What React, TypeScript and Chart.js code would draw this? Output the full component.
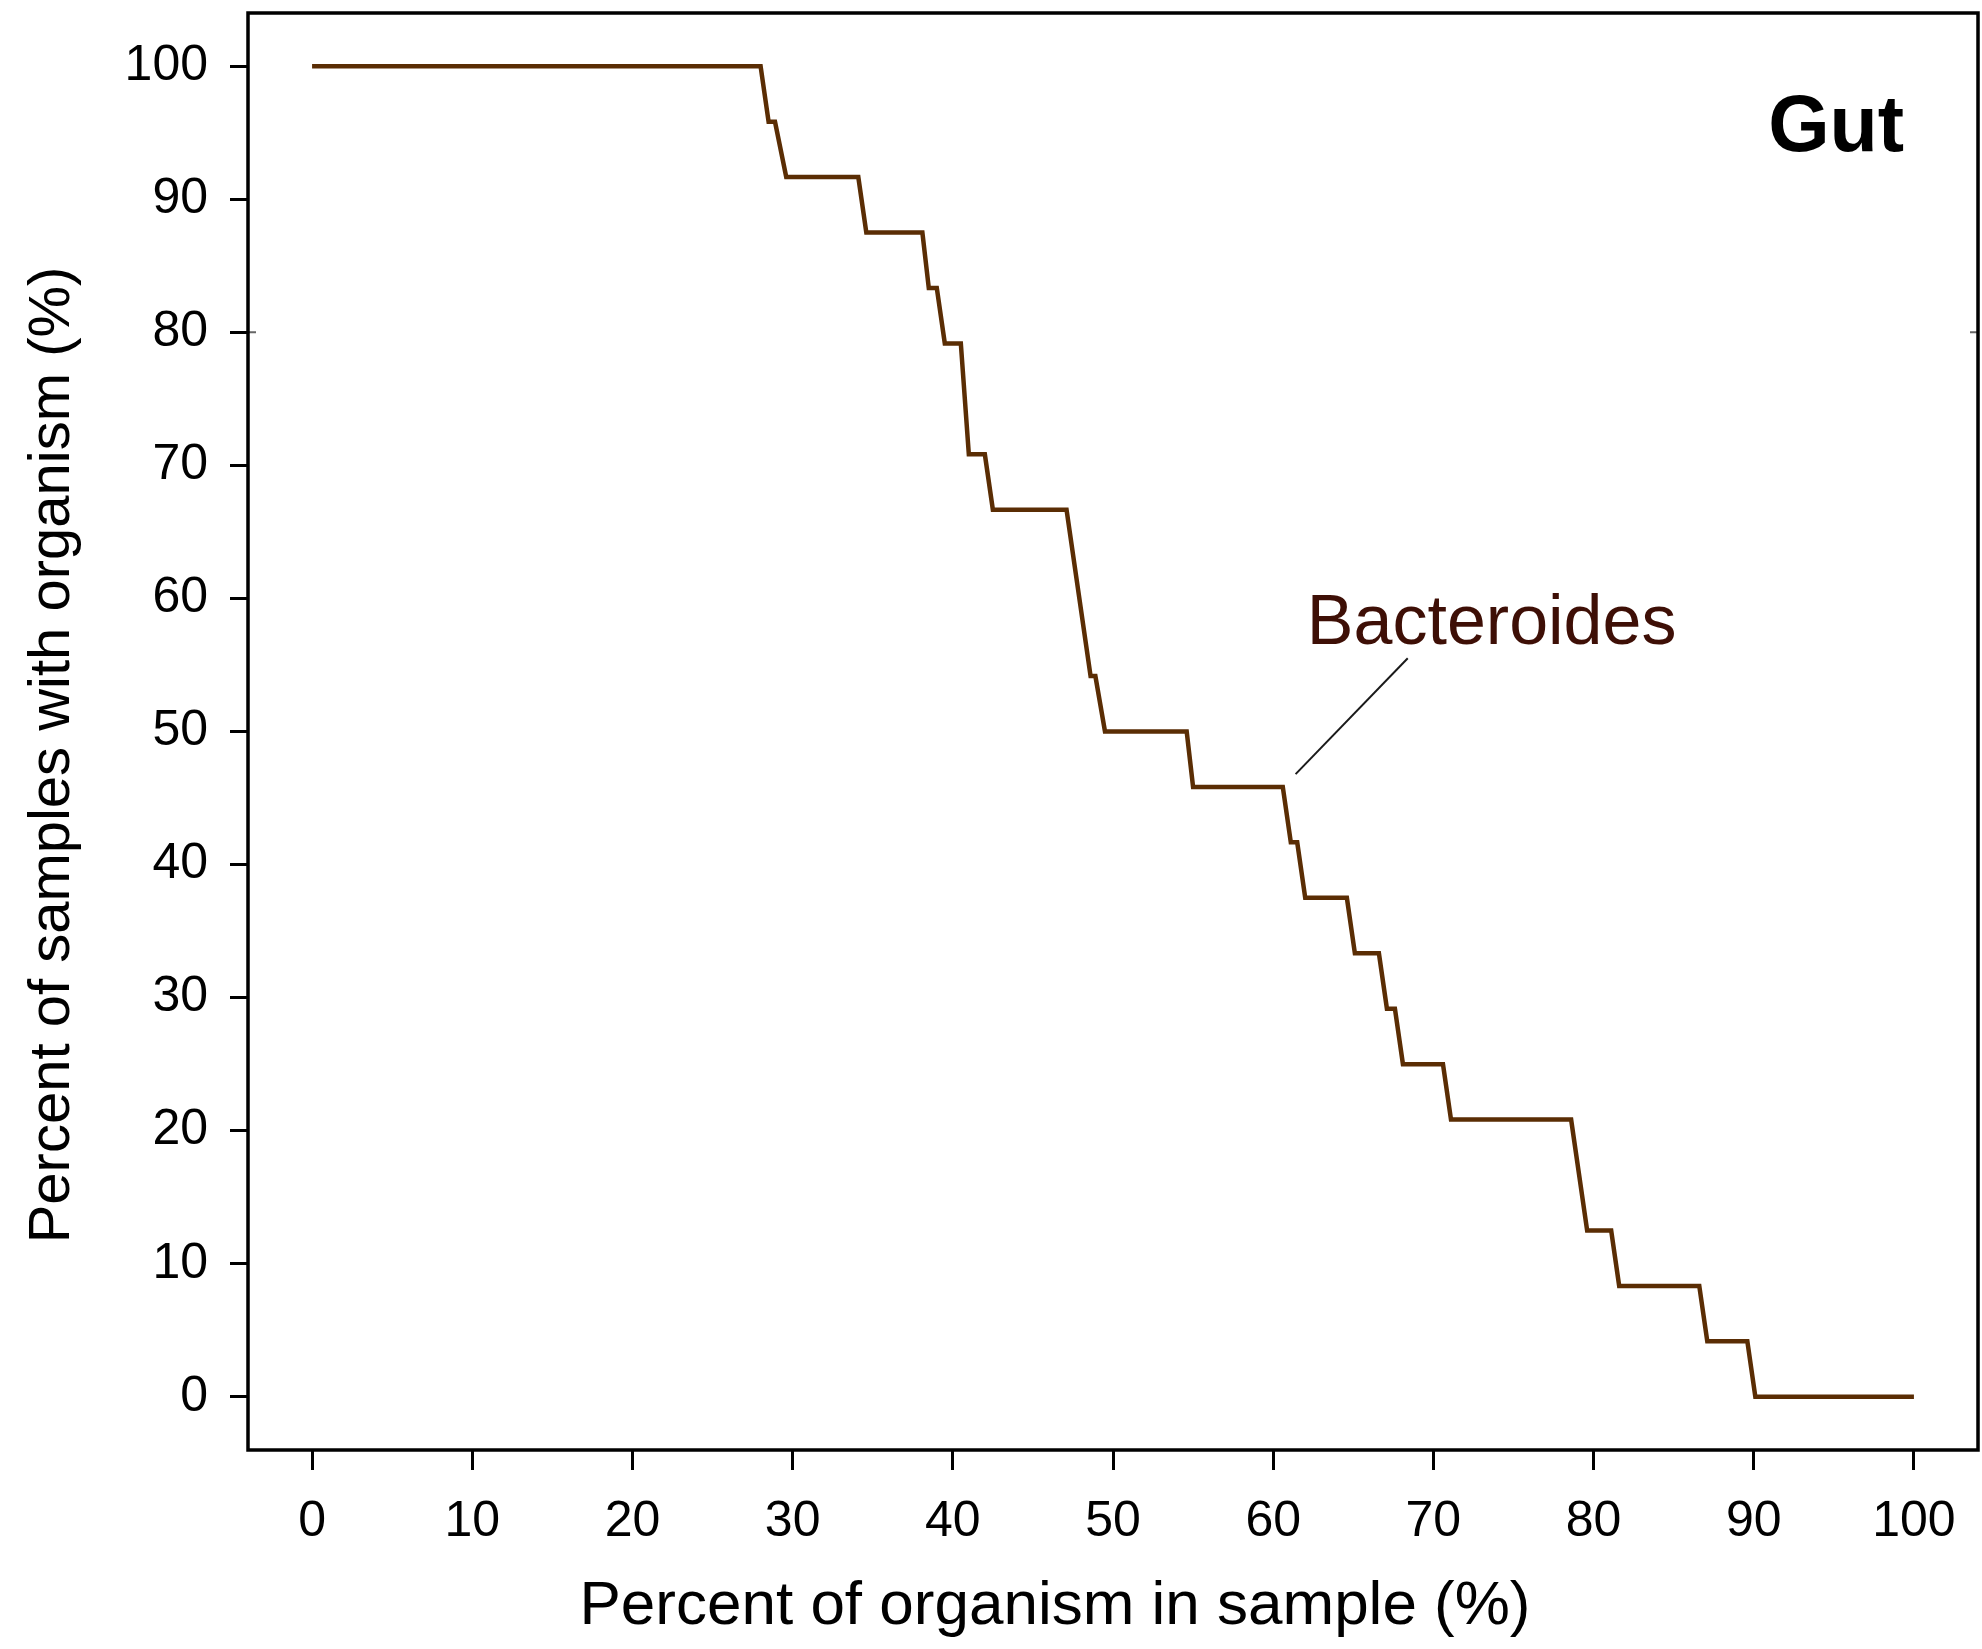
import React, { useEffect, useRef } from 'react';
import { Chart, registerables } from 'chart.js';

Chart.register(...registerables);

// ---- data ----
const stepX = [
  0, 28.0, 28.5, 28.9, 29.6, 34.1, 34.6, 38.1, 38.5, 39.0, 39.5, 40.5, 41.0,
  42.0, 42.5, 47.1, 48.6, 48.9, 49.5, 54.6, 55.0, 60.6, 61.1, 61.5, 62.0,
  64.6, 65.1, 66.6, 67.1, 67.6, 68.1, 70.6, 71.1, 78.6, 79.6, 81.1, 81.6,
  86.6, 87.1, 89.6, 90.1, 100,
];
const stepY = [
  100, 100, 95.83, 95.83, 91.67, 91.67, 87.5, 87.5, 83.33, 83.33, 79.17,
  79.17, 70.83, 70.83, 66.67, 66.67, 54.17, 54.17, 50, 50, 45.83, 45.83,
  41.67, 41.67, 37.5, 37.5, 33.33, 33.33, 29.17, 29.17, 25, 25, 20.83, 20.83,
  12.5, 12.5, 8.33, 8.33, 4.17, 4.17, 0, 0,
];
const xTickValues = [0, 10, 20, 30, 40, 50, 60, 70, 80, 90, 100];
const yTickValues = [0, 10, 20, 30, 40, 50, 60, 70, 80, 90, 100];

const seriesName = 'Bacteroides';
const panelName = 'Gut';
const xTitleText = 'Percent of organism in sample (%)';
const yTitleText = 'Percent of samples with organism (%)';

// annotation anchors in data coordinates
const leaderX = [61.4, 68.4];
const leaderY = [46.8, 55.5];
const seriesLabelAt = [62.1, 56.6];
const panelLabelAt = [90.9, 93.6];
const strayTickValue = 80;

const FONT = '"Liberation Sans", Arial, Helvetica, sans-serif';
const LINE_COLOR = '#5a2d04';
const LABEL_COLOR = '#3e0f06';

const overlayPlugin = {
  id: 'overlay',
  afterDraw(chart: any) {
    const { ctx, chartArea, scales } = chart;
    const xs = scales.x;
    const ys = scales.y;
    ctx.save();
    // axis titles
    ctx.fillStyle = '#000';
    ctx.textAlign = 'center';
    ctx.textBaseline = 'middle';
    ctx.font = `62px ${FONT}`;
    ctx.fillText(xTitleText, 1055, 1607);
    ctx.save();
    ctx.translate(53, 755);
    ctx.rotate(-Math.PI / 2);
    ctx.font = `58px ${FONT}`;
    ctx.fillText(yTitleText, 0, 0);
    ctx.restore();
    // leader line
    ctx.strokeStyle = '#1a1a1a';
    ctx.lineWidth = 2;
    ctx.beginPath();
    ctx.moveTo(xs.getPixelForValue(leaderX[0]), ys.getPixelForValue(leaderY[0]));
    ctx.lineTo(xs.getPixelForValue(leaderX[1]), ys.getPixelForValue(leaderY[1]));
    ctx.stroke();
    // series label
    ctx.fillStyle = LABEL_COLOR;
    ctx.font = `70px ${FONT}`;
    ctx.textAlign = 'left';
    ctx.textBaseline = 'alphabetic';
    ctx.fillText(seriesName, xs.getPixelForValue(seriesLabelAt[0]), ys.getPixelForValue(seriesLabelAt[1]));
    // panel label
    ctx.fillStyle = '#000';
    ctx.font = `bold 79px ${FONT}`;
    ctx.fillText(panelName, xs.getPixelForValue(panelLabelAt[0]), ys.getPixelForValue(panelLabelAt[1]));
    // small stray ticks at 80
    const yy = ys.getPixelForValue(strayTickValue);
    ctx.strokeStyle = '#666';
    ctx.lineWidth = 2;
    ctx.beginPath();
    ctx.moveTo(chartArea.left, yy);
    ctx.lineTo(chartArea.left + 8, yy);
    ctx.moveTo(chartArea.right - 8, yy);
    ctx.lineTo(chartArea.right, yy);
    ctx.stroke();
    // plot box
    ctx.strokeStyle = '#000';
    ctx.lineWidth = 3.5;
    ctx.strokeRect(chartArea.left, chartArea.top, chartArea.right - chartArea.left, chartArea.bottom - chartArea.top);
    ctx.restore();
  },
};

export default function App() {
  const ref = useRef<HTMLCanvasElement | null>(null);

  useEffect(() => {
    if (!ref.current) return;
    const chart = new Chart(ref.current, {
      type: 'line',
      data: {
        datasets: [
          {
            label: seriesName,
            data: stepX.map((x, i) => ({ x, y: stepY[i] })),
            borderColor: LINE_COLOR,
            borderWidth: 4.5,
            pointRadius: 0,
            tension: 0,
            fill: false,
            borderJoinStyle: 'miter',
          },
        ],
      },
      options: {
        responsive: false,
        animation: false,
        layout: { padding: { top: 13, right: 4, left: 0, bottom: 0 } },
        plugins: { legend: { display: false }, tooltip: { enabled: false } },
        scales: {
          x: {
            type: 'linear',
            min: -4,
            max: 104,
            afterBuildTicks: (s: any) => {
              s.ticks = xTickValues.map((v) => ({ value: v }));
            },
            afterFit: (s: any) => {
              s.height = 199;
              s.paddingLeft = 0;
              s.paddingRight = 0;
            },
            grid: { drawOnChartArea: false, drawTicks: true, tickLength: 20, tickWidth: 3, tickColor: '#000' },
            border: { display: false },
            ticks: { font: { family: FONT, size: 50 }, color: '#000', padding: 22, maxRotation: 0, autoSkip: false },
            title: { display: false },
          },
          y: {
            type: 'linear',
            min: -4,
            max: 104,
            afterBuildTicks: (s: any) => {
              s.ticks = yTickValues.map((v) => ({ value: v }));
            },
            afterFit: (s: any) => {
              s.width = 248;
              s.paddingTop = 0;
              s.paddingBottom = 0;
            },
            grid: { drawOnChartArea: false, drawTicks: true, tickLength: 18, tickWidth: 3, tickColor: '#000' },
            border: { display: false },
            ticks: { font: { family: FONT, size: 50 }, color: '#000', padding: 22, autoSkip: false },
            title: { display: false },
          },
        },
      },
      plugins: [overlayPlugin],
    } as any);
    return () => chart.destroy();
  }, []);

  return (
    <div style={{ position: 'absolute', left: 0, top: 0, width: 1982, height: 1649, background: '#fff' }}>
      <canvas ref={ref} width={1982} height={1649} style={{ display: 'block' }} />
    </div>
  );
}
